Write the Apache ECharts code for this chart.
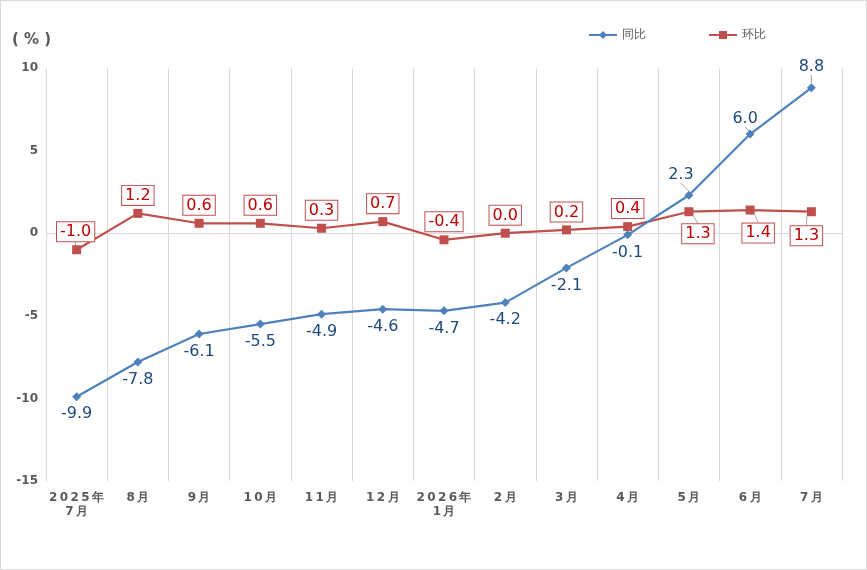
<!DOCTYPE html>
<html><head><meta charset="utf-8">
<script src="https://cdn.jsdelivr.net/npm/echarts@6/dist/echarts.min.js"></script>
<style>
html,body{margin:0;padding:0;background:#fff;}
#wrap{width:867px;height:570px;box-sizing:border-box;border:1px solid #d9d9d9;position:relative;}
#c{width:865px;height:568px;position:absolute;left:0;top:0;}
</style></head>
<body><div id="wrap"><div id="c"></div></div>
<script>
var categories = ['2025年\n7月','8月','9月','10月','11月','12月','2026年\n1月','2月','3月','4月','5月','6月','7月'];
var yoyValues = [-9.9,-7.8,-6.1,-5.5,-4.9,-4.6,-4.7,-4.2,-2.1,-0.1,2.3,6.0,8.8];
var momValues = [-1.0,1.2,0.6,0.6,0.3,0.7,-0.4,0.0,0.2,0.4,1.3,1.4,1.3];
var yTicks = [-15,-10,-5,0,5,10];

// label offsets (relative to point centre) for labels moved off their default side
var yoyMoved = {10:[-8,-20],11:[-5,-15],12:[0,-21]};
var momMoved = {0:[-1,-18],10:[9,22],11:[8,23],12:[-5,24]};

function spaced(s){
  return s.split('\n').map(function(line){return line.split('').join('\u2009');}).join('\n');
}
function layoutFor(moved){
  return function(p){
    var o = moved[p.dataIndex];
    if(!o) return {};
    return {x: p.rect.x + p.rect.width/2 + o[0], y: p.rect.y + p.rect.height/2 + o[1], align:'center', verticalAlign:'middle'};
  };
}
function items(values, moved){
  return values.map(function(v,i){
    return {value:v, labelLine:{show: !!moved[i]}};
  });
}

var chart = echarts.init(document.getElementById('c'));
chart.setOption({
  animation:false,
  title:{text:'( % )',left:6,top:27,textStyle:{fontSize:15,fontWeight:'bold',color:'#595959',fontFamily:'DejaVu Sans'}},
  legend:{top:23,left:582,itemGap:62,itemWidth:28,itemHeight:10,
    textStyle:{color:'#595959',fontSize:12,fontFamily:'DejaVu Sans'},
    data:['同比','环比']},
  grid:{left:45,right:24,top:67,bottom:88,containLabel:false},
  xAxis:{type:'category',data:categories,boundaryGap:true,
    axisLine:{show:false},axisTick:{show:false},
    splitLine:{show:true,lineStyle:{color:'#d9d9d9',width:1}},
    axisLabel:{interval:0,color:'#595959',fontWeight:'bold',fontSize:12,fontFamily:'DejaVu Sans',margin:10,lineHeight:14,
      formatter:function(v){return spaced(v);}}},
  yAxis:{type:'value',min:yTicks[0],max:yTicks[yTicks.length-1],interval:5,
    axisLine:{show:false},axisTick:{show:false},splitLine:{show:false},
    axisLabel:{color:'#595959',fontWeight:'bold',fontSize:12,fontFamily:'DejaVu Sans',margin:8}},
  series:[
    {name:'同比',type:'line',data:items(yoyValues,yoyMoved),symbol:'diamond',symbolSize:9,
      itemStyle:{color:'#4f81bd'},lineStyle:{color:'#4f81bd',width:2.2},
      label:{show:true,position:'bottom',distance:5,color:'#1f497d',fontSize:16,fontFamily:'DejaVu Sans',
        formatter:function(p){return p.value.toFixed(1);}},
      labelLayout:layoutFor(yoyMoved),
      labelLine:{show:false,lineStyle:{color:'#a6a6a6',width:1}},
      markLine:{silent:true,symbol:'none',label:{show:false},lineStyle:{color:'#d9d9d9',width:1,type:'solid'},data:[{yAxis:0}],z:0},
      z:3},
    {name:'环比',type:'line',data:items(momValues,momMoved),symbol:'rect',symbolSize:9,
      itemStyle:{color:'#c0504d'},lineStyle:{color:'#c0504d',width:2.2},
      label:{show:true,position:'top',distance:4,color:'#c00000',fontSize:16,fontFamily:'DejaVu Sans',
        backgroundColor:'#fff',borderColor:'#c0504d',borderWidth:1,padding:[2,3,1,3],
        formatter:function(p){return p.value.toFixed(1);}},
      labelLayout:layoutFor(momMoved),
      labelLine:{show:false,lineStyle:{color:'#a6a6a6',width:1}},
      z:2}
  ]
});
</script></body></html>
